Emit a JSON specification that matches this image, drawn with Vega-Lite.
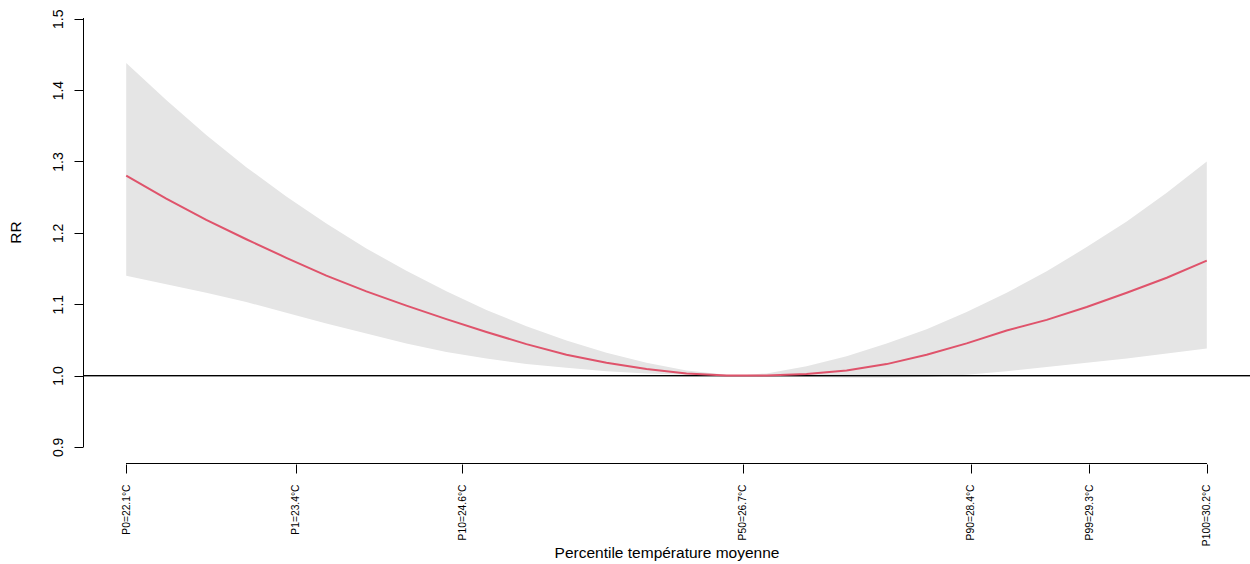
{
  "$schema": "https://vega.github.io/schema/vega-lite/v6.json",
  "width": 1167,
  "height": 463,
  "autosize": {"type": "none"},
  "padding": {"left": 83, "top": 1, "right": 0, "bottom": 100},
  "background": "white",
  "config": {
    "view": {"stroke": null},
    "font": "Liberation Sans",
    "axis": {"grid": false, "labelColor": "#000", "titleColor": "#000", "tickColor": "#000", "titleFontWeight": "normal", "labelFont": "Liberation Sans", "titleFont": "Liberation Sans"}
  },
  "data": {
    "values": [
      {"t": 22.1, "rr": 1.280, "lo": 1.140, "hi": 1.438},
      {"t": 22.4, "rr": 1.248, "lo": 1.128, "hi": 1.386},
      {"t": 22.7, "rr": 1.218, "lo": 1.116, "hi": 1.337},
      {"t": 23.0, "rr": 1.191, "lo": 1.103, "hi": 1.292},
      {"t": 23.3, "rr": 1.165, "lo": 1.088, "hi": 1.251},
      {"t": 23.6, "rr": 1.140, "lo": 1.073, "hi": 1.213},
      {"t": 23.9, "rr": 1.118, "lo": 1.059, "hi": 1.178},
      {"t": 24.2, "rr": 1.098, "lo": 1.045, "hi": 1.147},
      {"t": 24.5, "rr": 1.079, "lo": 1.033, "hi": 1.118},
      {"t": 24.8, "rr": 1.061, "lo": 1.024, "hi": 1.092},
      {"t": 25.1, "rr": 1.044, "lo": 1.016, "hi": 1.069},
      {"t": 25.4, "rr": 1.029, "lo": 1.011, "hi": 1.049},
      {"t": 25.7, "rr": 1.018, "lo": 1.006, "hi": 1.032},
      {"t": 26.0, "rr": 1.009, "lo": 1.003, "hi": 1.018},
      {"t": 26.3, "rr": 1.003, "lo": 1.001, "hi": 1.007},
      {"t": 26.6, "rr": 1.000, "lo": 1.000, "hi": 1.001},
      {"t": 26.7, "rr": 1.000, "lo": 1.000, "hi": 1.000},
      {"t": 26.9, "rr": 1.000, "lo": 0.999, "hi": 1.003},
      {"t": 27.2, "rr": 1.002, "lo": 0.998, "hi": 1.013},
      {"t": 27.5, "rr": 1.007, "lo": 0.997, "hi": 1.027},
      {"t": 27.8, "rr": 1.016, "lo": 0.997, "hi": 1.045},
      {"t": 28.1, "rr": 1.029, "lo": 0.998, "hi": 1.065},
      {"t": 28.4, "rr": 1.045, "lo": 1.001, "hi": 1.089},
      {"t": 28.7, "rr": 1.063, "lo": 1.006, "hi": 1.116},
      {"t": 29.0, "rr": 1.078, "lo": 1.012, "hi": 1.146},
      {"t": 29.3, "rr": 1.096, "lo": 1.018, "hi": 1.180},
      {"t": 29.6, "rr": 1.116, "lo": 1.024, "hi": 1.216},
      {"t": 29.9, "rr": 1.137, "lo": 1.031, "hi": 1.256},
      {"t": 30.2, "rr": 1.161, "lo": 1.038, "hi": 1.300}
    ]
  },
  "layer": [
    {
      "mark": {"type": "area", "color": "#E5E5E5", "opacity": 1},
      "encoding": {
        "x": {
          "field": "t",
          "type": "quantitative",
          "scale": {"domain": [21.776, 30.524], "nice": false, "zero": false},
          "axis": {
            "title": "Percentile température moyenne",
            "titleFontSize": 15.5,
            "titleY": 93,
            "titleBaseline": "alphabetic",
            "domain": false,
            "values": [22.1, 23.37, 24.62, 26.72, 28.43, 29.32, 30.2],
            "labelExpr": "datum.value < 22.5 ? 'P0=22.1°C' : datum.value < 24 ? 'P1=23.4°C' : datum.value < 25 ? 'P10=24.6°C' : datum.value < 27 ? 'P50=26.7°C' : datum.value < 29 ? 'P90=28.4°C' : datum.value < 30 ? 'P99=29.3°C' : 'P100=30.2°C'",
            "labelAngle": 270,
            "labelAlign": "right",
            "labelBaseline": "middle",
            "labelFontSize": 10.3,
            "labelPadding": 11,
            "tickSize": 9,
            "labelOverlap": false,
            "labelBound": false,
            "labelFlush": false
          }
        },
        "y": {
          "field": "lo",
          "type": "quantitative",
          "scale": {"domain": [0.876, 1.5249], "nice": false, "zero": false},
          "axis": {
            "title": "RR",
            "titleFontSize": 15.5,
            "titleX": -68,
            "titleY": 231,
            "titleAngle": 270,
            "titleAlign": "center",
            "titleBaseline": "middle",
            "domain": false,
            "values": [0.9, 1.0, 1.1, 1.2, 1.3, 1.4, 1.5],
            "format": ".1f",
            "labelAngle": 270,
            "labelAlign": "center",
            "labelBaseline": "bottom",
            "labelFontSize": 14,
            "labelPadding": 9,
            "tickSize": 9,
            "labelOverlap": false,
            "labelBound": false,
            "labelFlush": false
          }
        },
        "y2": {"field": "hi"}
      }
    },
    {
      "mark": {"type": "rule", "color": "#000", "strokeWidth": 1},
      "encoding": {"y": {"datum": 1}}
    },
    {
      "mark": {"type": "line", "color": "#DF536B", "strokeWidth": 2},
      "encoding": {
        "x": {"field": "t", "type": "quantitative"},
        "y": {"field": "rr", "type": "quantitative"}
      }
    },
    {
      "mark": {"type": "rule", "color": "#000", "strokeWidth": 1},
      "encoding": {
        "x": {"datum": 21.7798, "type": "quantitative"},
        "y": {"datum": 0.9, "type": "quantitative"},
        "y2": {"datum": 1.5}
      }
    },
    {
      "mark": {"type": "rule", "color": "#000", "strokeWidth": 1},
      "encoding": {
        "x": {"datum": 22.1, "type": "quantitative"},
        "x2": {"datum": 30.2},
        "y": {"datum": 0.8767, "type": "quantitative"}
      }
    }
  ]
}
